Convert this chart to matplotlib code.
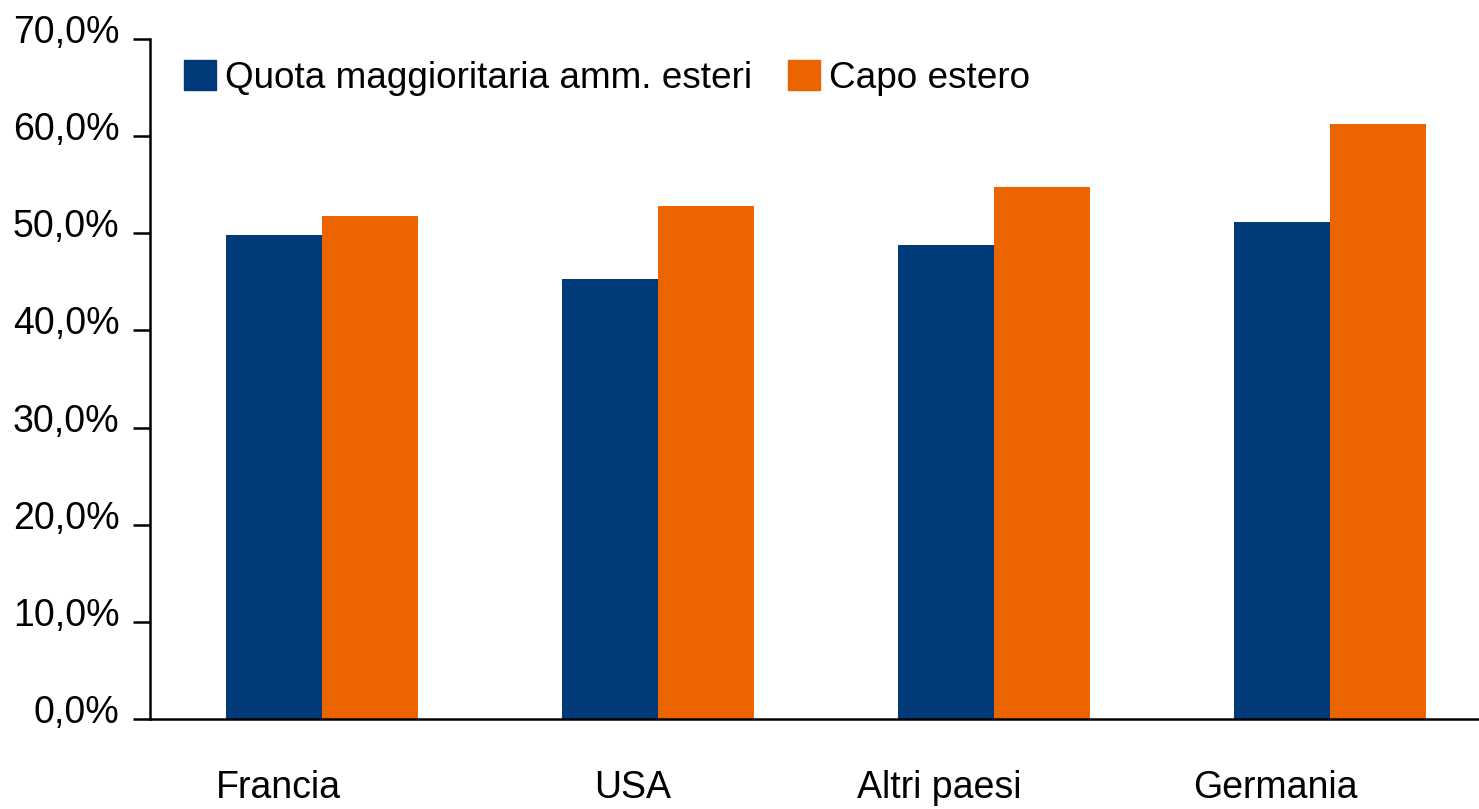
import numpy as np
import matplotlib.pyplot as plt
from matplotlib.patches import Patch
from matplotlib.ticker import FuncFormatter
from matplotlib.transforms import ScaledTranslation

plt.rcParams['font.family'] = ['Liberation Sans', 'DejaVu Sans']

paesi = ["Francia", "USA", "Altri paesi", "Germania"]
quota_amm_esteri = [49.8, 45.3, 48.8, 51.2]
capo_estero = [51.8, 52.8, 54.8, 61.3]

blu = "#003a78"
arancio = "#ec6400"

W, H = 1479, 809
fig = plt.figure(figsize=(W / 100, H / 100), dpi=100)
ax = fig.add_axes([150 / W, (H - 719) / H, 1 - 150 / W, (719 - 39) / H])

x = np.arange(len(paesi))
w = 0.286
ax.bar(x - w / 2, quota_amm_esteri, w, color=blu, linewidth=0)
ax.bar(x + w / 2, capo_estero, w, color=arancio, linewidth=0)

ax.set_ylim(0, 70)
ax.set_xlim(-0.512, 3.443)
ax.set_yticks(np.arange(0, 71, 10))
ax.yaxis.set_major_formatter(FuncFormatter(lambda v, p: f"{v:.1f}%".replace(".", ",")))

# etichette dei paesi un po' a sinistra del centro di ogni gruppo
spostamento = [-0.131, -0.077, -0.164, -0.164]
ax.set_xticks(x + np.array(spostamento))
ax.set_xticklabels(paesi)
ax.tick_params(axis='x', length=0, pad=37, labelsize=27)
ax.tick_params(axis='y', direction='out', length=12, width=1.8, pad=10, labelsize=27)

# le etichette dell'asse y stanno leggermente sopra le tacche
su = ScaledTranslation(0, 10 / 100, fig.dpi_scale_trans)
for lab in ax.get_yticklabels():
    lab.set_transform(lab.get_transform() + su)

for s in ["top", "right"]:
    ax.spines[s].set_visible(False)
for s in ["left", "bottom"]:
    ax.spines[s].set_linewidth(1.8)

handles = [Patch(color=blu, label="Quota maggioritaria amm. esteri"),
           Patch(color=arancio, label="Capo estero")]
ax.legend(handles=handles, loc='upper left', bbox_to_anchor=(184 / W, 1 - 60 / H),
          bbox_transform=fig.transFigure, ncol=2, frameon=False, fontsize=26.6,
          handlelength=0.87, handleheight=0.87, handletextpad=0.25,
          columnspacing=0.95, borderpad=0, borderaxespad=0)

fig.savefig("out.png", dpi=100)
